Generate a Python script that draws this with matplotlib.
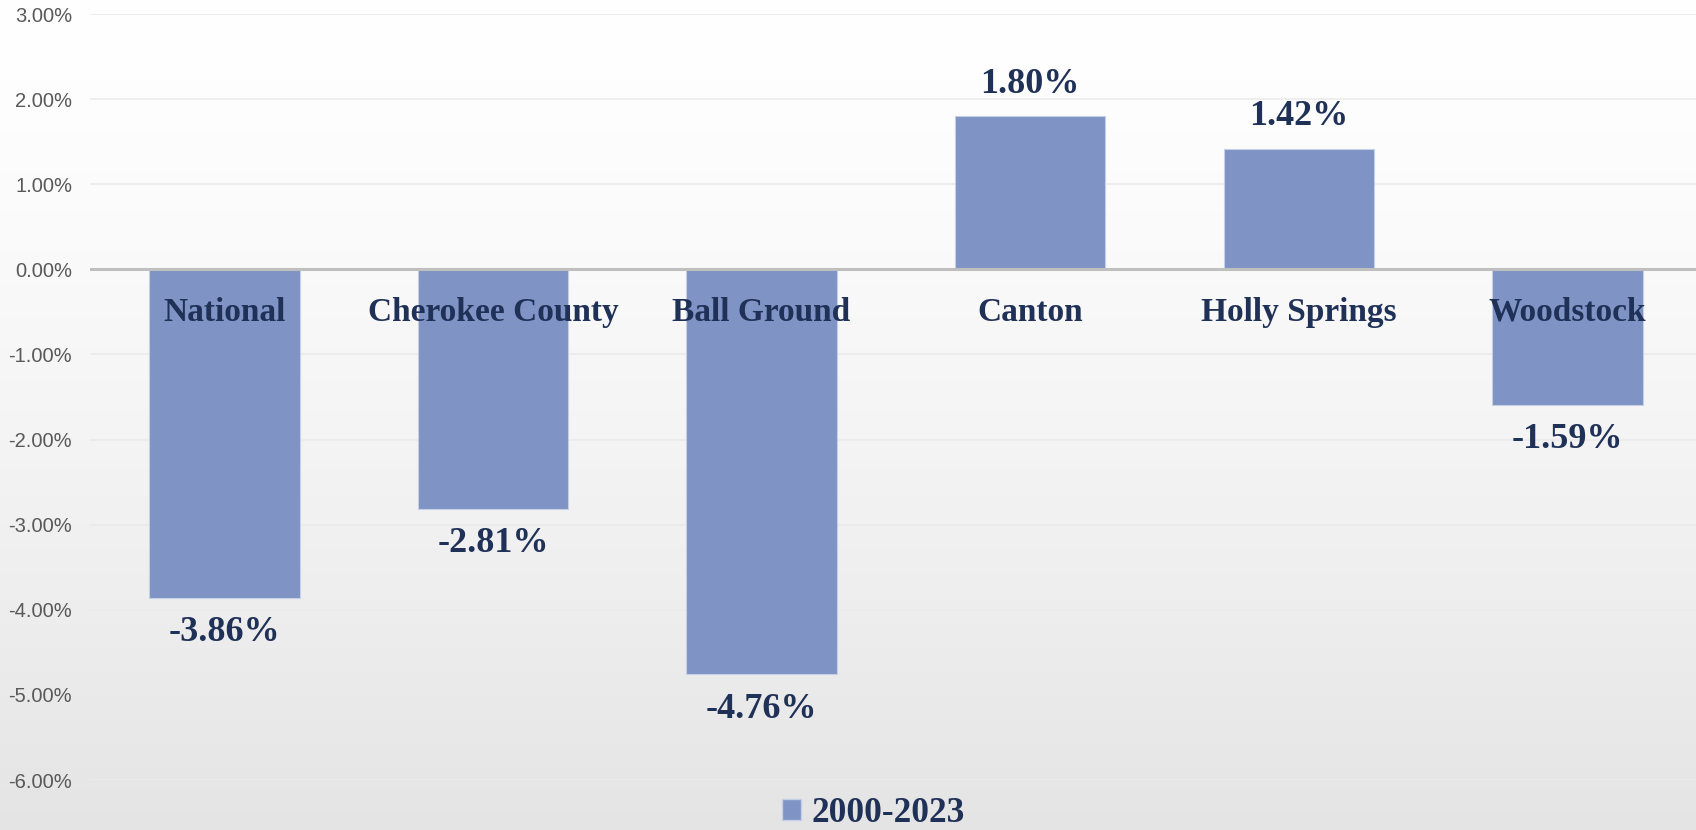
import numpy as np
import matplotlib
matplotlib.use("Agg")
from matplotlib import pyplot as plt
from matplotlib.patches import Patch
from matplotlib.ticker import FuncFormatter

places = ["National", "Cherokee County", "Ball Ground", "Canton", "Holly Springs", "Woodstock"]
change = [-3.86, -2.81, -4.76, 1.80, 1.42, -1.59]
series_name = "2000-2023"
yticks = [3, 2, 1, 0, -1, -2, -3, -4, -5, -6]

bar_color = "#7f93c4"
text_color = "#203158"
serif = ["Liberation Serif", "DejaVu Serif"]

fig = plt.figure(figsize=(16.96, 8.30), dpi=100)

# soft vertical gradient behind everything
bg = fig.add_axes([0, 0, 1, 1], zorder=0)
t = np.linspace(0, 1, 400).reshape(-1, 1)
shade = 1.0 - 0.105 * t ** 1.4
bg.imshow(np.dstack([shade, shade, shade]), aspect="auto", extent=[0, 1, 0, 1], origin="upper")
bg.axis("off")

ax = fig.add_axes([0.0531, 0.0602, 0.9502, 0.9229], zorder=1)
ax.patch.set_alpha(0)

x = np.arange(len(places))
ax.bar(x, change, width=0.56, color=bar_color, edgecolor="#c5cfe6", linewidth=0.8, zorder=3)

ax.set_xlim(-0.5, len(places) - 0.5)
ax.set_ylim(-6, 3)
ax.set_yticks(yticks)
ax.yaxis.set_major_formatter(FuncFormatter(lambda v, p: f"{v:.2f}%"))
ax.tick_params(axis="y", length=0, pad=13, labelsize=14.5, labelcolor="#595959")
for lab in ax.get_yticklabels():
    lab.set_fontfamily(["Liberation Sans", "DejaVu Sans"])
ax.set_xticks([])
ax.grid(axis="y", color="#ebebeb", linewidth=1.2, zorder=0)
ax.axhline(0, color="#bfbfbf", linewidth=2.2, zorder=4)
for s in ax.spines.values():
    s.set_visible(False)

for xi, name, v in zip(x, places, change):
    ax.annotate(name, (xi, 0), xytext=(0, -31), textcoords="offset points",
                ha="center", va="center", fontsize=24, fontweight="bold",
                color=text_color, family=serif, zorder=5)
    off = 23 if v > 0 else -25
    ax.annotate(f"{v:.2f}%", (xi, v), xytext=(0, off), textcoords="offset points",
                ha="center", va="center", fontsize=26, fontweight="bold",
                color=text_color, family=serif, zorder=5)

handle = Patch(facecolor=bar_color, edgecolor="#c5cfe6")
leg = fig.legend([handle], [series_name], loc="center", bbox_to_anchor=(0.515, 0.02),
                 frameon=False, handlelength=0.55, handleheight=0.55, handletextpad=0.3,
                 prop={"family": serif, "weight": "bold", "size": 25.5})
for txt in leg.get_texts():
    txt.set_color(text_color)

fig.savefig("out.png", dpi=100)
